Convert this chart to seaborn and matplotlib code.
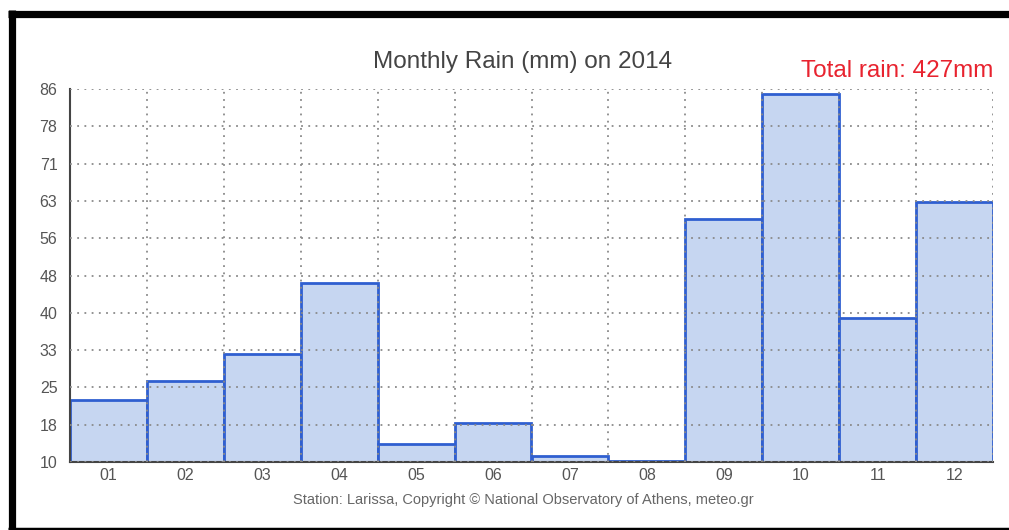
import matplotlib
matplotlib.use("Agg")
import matplotlib.pyplot as plt
import seaborn as sns
import pandas as pd
import numpy as np

# monthly rain, Larissa 2014
months = ["01", "02", "03", "04", "05", "06", "07", "08", "09", "10", "11", "12"]
rain = [22.7, 26.5, 32.1, 46.5, 13.7, 17.9, 11.2, 10.3, 59.6, 85.0, 39.3, 62.9]
y_ticks = [10, 17.6, 25.2, 32.8, 40.4, 48, 55.6, 63.2, 70.8, 78.4, 86]
y_labels = ["10", "18", "25", "33", "40", "48", "56", "63", "71", "78", "86"]

df = pd.DataFrame({"month": months, "rain": rain})

sns.set_style("white")
plt.rcParams['font.family'] = ['Liberation Sans', 'DejaVu Sans']

fig = plt.figure(figsize=(10.09, 5.30), dpi=100)
axs = fig.add_axes([70 / 1009, 1 - 462 / 530, 923 / 1009, 373 / 530])

sns.barplot(x="month", y="rain", data=df, ax=axs, width=1.0,
            color="#c6d6f1", edgecolor="#2f5fd0", linewidth=2, saturation=1)

axs.set_xlim(-0.5, 11.5)
axs.set_ylim(10, 86)
axs.set_yticks(y_ticks)
axs.set_yticklabels(y_labels)
axs.set_xticks(np.arange(0.5, 12, 1), minor=True)

# dotted grid drawn over the bars
axs.set_axisbelow(False)
axs.grid(which="major", axis="y", color="#8a8a8a", linestyle=(0, (1, 3)), linewidth=1.3)
axs.grid(which="minor", axis="x", color="#8a8a8a", linestyle=(0, (1, 3)), linewidth=1.3)
axs.tick_params(which="both", length=0, labelsize=11.5, labelcolor="#555555")
axs.tick_params(axis="y", pad=9)
axs.tick_params(axis="x", pad=4)

for side in ["top", "right"]:
    axs.spines[side].set_visible(False)
for side in ["left", "bottom"]:
    axs.spines[side].set_color("#444444")
    axs.spines[side].set_linewidth(1.5)

axs.set_xlabel("")
axs.set_ylabel("")

fig.text(523 / 1009, 1 - 62 / 530, "Monthly Rain (mm) on 2014", ha="center", va="center",
         fontsize=17.5, color="#444444")
fig.text(993 / 1009, 1 - 71 / 530, "Total rain: 427mm", ha="right", va="center",
         fontsize=17.5, color="#e8232f")
fig.text(523 / 1009, 1 - 500 / 530,
         "Station: Larissa, Copyright \u00a9 National Observatory of Athens, meteo.gr",
         ha="center", va="center", fontsize=10.5, color="#666666")

# black frame of the screenshot
frame = dict(color="black", transform=fig.transFigure, clip_on=False, solid_capstyle="butt")
fig.add_artist(plt.Line2D([11.5 / 1009, 11.5 / 1009], [1 - 10 / 530, 1 - 530 / 530], linewidth=5.2, **frame))
fig.add_artist(plt.Line2D([8 / 1009, 1.0], [1 - 13.5 / 530, 1 - 13.5 / 530], linewidth=5.2, **frame))
fig.add_artist(plt.Line2D([8 / 1009, 1.0], [1 - 528.5 / 530, 1 - 528.5 / 530], linewidth=2.5, **frame))

plt.savefig("out.png", dpi=100)
